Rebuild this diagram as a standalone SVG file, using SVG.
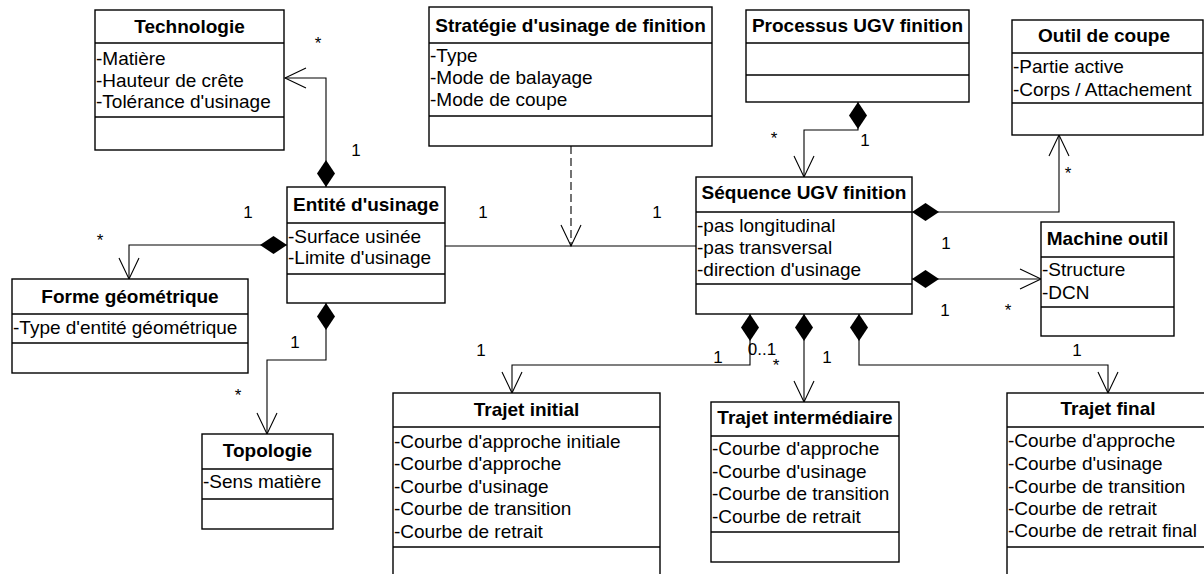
<svg xmlns="http://www.w3.org/2000/svg" width="1204" height="574" viewBox="0 0 1204 574">
<style>
.box{fill:#fff;stroke:#000;stroke-width:1.4}
.sep{stroke:#000;stroke-width:1.4}
.t{font-family:"Liberation Sans",Arial,sans-serif;font-size:19px;font-weight:bold;text-anchor:middle;fill:#000}
.a{font-family:"Liberation Sans",Arial,sans-serif;font-size:19px;fill:#000}
.l{font-family:"Liberation Sans",Arial,sans-serif;font-size:17px;text-anchor:middle;fill:#000}
.c{fill:none;stroke:#000;stroke-width:1.1}
.comp{marker-start:url(#dia);marker-end:url(#arr)}
.dash{stroke-dasharray:8,4}
</style>
<defs>
<marker id="arr" markerUnits="userSpaceOnUse" markerWidth="24" markerHeight="24" viewBox="-22 -11 24 22" refX="0" refY="0" orient="auto" overflow="visible">
<path d="M-21,-10 L0,0 L-21,10" fill="none" stroke="#000" stroke-width="1.1"/>
</marker>
<marker id="dia" markerUnits="userSpaceOnUse" markerWidth="30" markerHeight="20" viewBox="0 -10 30 20" refX="0" refY="0" orient="auto" overflow="visible">
<path d="M0,0 L13.5,-9 L27,0 L13.5,9 Z" fill="#000"/>
</marker>
</defs>

<g id="connectors">
<path class="c comp" d="M326,187 V78 H285"/>
<path class="c comp" d="M287,245 H129 V279"/>
<path class="c comp" d="M326,303 V360 H267 V434"/>
<path class="c" d="M445,246 H696"/>
<path class="c dash" d="M571,146 V246" marker-end="url(#arr)"/>
<path class="c comp" d="M858,102 V130 H804 V177"/>
<path class="c comp" d="M912,212 H1059 V135"/>
<path class="c comp" d="M912,279 H1041"/>
<path class="c comp" d="M750,314 V365 H512 V393"/>
<path class="c comp" d="M804,314 V402"/>
<path class="c comp" d="M859,314 V365 H1108 V393"/>
<g id="labels">
<text class="l" x="318" y="49">*</text>
<text class="l" x="356" y="156">1</text>
<text class="l" x="248" y="218">1</text>
<text class="l" x="100" y="246">*</text>
<text class="l" x="295" y="348">1</text>
<text class="l" x="238" y="401">*</text>
<text class="l" x="483" y="218">1</text>
<text class="l" x="657" y="218">1</text>
<text class="l" x="774" y="144">*</text>
<text class="l" x="865" y="146">1</text>
<text class="l" x="1068" y="179">*</text>
<text class="l" x="946" y="249">1</text>
<text class="l" x="945" y="316">1</text>
<text class="l" x="1008" y="316">*</text>
<text class="l" x="481" y="356">1</text>
<text class="l" x="718" y="363">1</text>
<text class="l" x="762" y="355">0..1</text>
<text class="l" x="776" y="371">*</text>
<text class="l" x="827" y="363">1</text>
<text class="l" x="1077" y="356">1</text>
</g>
</g>

<g id="technologie">
<rect class="box" x="95" y="10" width="189" height="140"/>
<line class="sep" x1="95" y1="43" x2="284" y2="43"/>
<line class="sep" x1="95" y1="117" x2="284" y2="117"/>
<text class="t" x="189.5" y="33">Technologie</text>
<text class="a" x="96" y="65">-Matière</text>
<text class="a" x="96" y="87">-Hauteur de crête</text>
<text class="a" x="96" y="108">-Tolérance d'usinage</text>
</g>

<g id="strategie">
<rect class="box" x="429" y="7" width="283" height="139"/>
<line class="sep" x1="429" y1="43" x2="712" y2="43"/>
<line class="sep" x1="429" y1="116" x2="712" y2="116"/>
<text class="t" x="570.5" y="32">Stratégie d'usinage de finition</text>
<text class="a" x="430" y="62">-Type</text>
<text class="a" x="430" y="84">-Mode de balayage</text>
<text class="a" x="430" y="106">-Mode de coupe</text>
</g>

<g id="processus">
<rect class="box" x="746" y="10" width="223" height="92"/>
<line class="sep" x1="746" y1="43" x2="969" y2="43"/>
<line class="sep" x1="746" y1="75" x2="969" y2="75"/>
<text class="t" x="857.5" y="32">Processus UGV finition</text>
</g>

<g id="outil">
<rect class="box" x="1012" y="20" width="191" height="115"/>
<line class="sep" x1="1012" y1="53" x2="1203" y2="53"/>
<line class="sep" x1="1012" y1="103" x2="1203" y2="103"/>
<text class="t" x="1104" y="42">Outil de coupe</text>
<text class="a" x="1013" y="73">-Partie active</text>
<text class="a" x="1013" y="96">-Corps / Attachement</text>
</g>

<g id="entite">
<rect class="box" x="287" y="187" width="158" height="116"/>
<line class="sep" x1="287" y1="223" x2="445" y2="223"/>
<line class="sep" x1="287" y1="274" x2="445" y2="274"/>
<text class="t" x="366" y="211">Entité d'usinage</text>
<text class="a" x="288" y="243">-Surface usinée</text>
<text class="a" x="288" y="264">-Limite d'usinage</text>
</g>

<g id="forme">
<rect class="box" x="12" y="279" width="236" height="94"/>
<line class="sep" x1="12" y1="314" x2="248" y2="314"/>
<line class="sep" x1="12" y1="343" x2="248" y2="343"/>
<text class="t" x="130" y="303">Forme géométrique</text>
<text class="a" x="13" y="334">-Type d'entité géométrique</text>
</g>

<g id="topologie">
<rect class="box" x="202" y="434" width="131" height="95"/>
<line class="sep" x1="202" y1="469" x2="333" y2="469"/>
<line class="sep" x1="202" y1="499" x2="333" y2="499"/>
<text class="t" x="267.5" y="457">Topologie</text>
<text class="a" x="203" y="488">-Sens matière</text>
</g>

<g id="sequence">
<rect class="box" x="696" y="177" width="216" height="137"/>
<line class="sep" x1="696" y1="212" x2="912" y2="212"/>
<line class="sep" x1="696" y1="284" x2="912" y2="284"/>
<text class="t" x="804" y="199">Séquence UGV finition</text>
<text class="a" x="697" y="232">-pas longitudinal</text>
<text class="a" x="697" y="254">-pas transversal</text>
<text class="a" x="697" y="276">-direction d'usinage</text>
</g>

<g id="machine">
<rect class="box" x="1041" y="222" width="133" height="114"/>
<line class="sep" x1="1041" y1="257" x2="1174" y2="257"/>
<line class="sep" x1="1041" y1="307" x2="1174" y2="307"/>
<text class="t" x="1107.5" y="245">Machine outil</text>
<text class="a" x="1042" y="276">-Structure</text>
<text class="a" x="1042" y="299">-DCN</text>
</g>

<g id="trajet-initial">
<rect class="box" x="393" y="393" width="267" height="190"/>
<line class="sep" x1="393" y1="427" x2="660" y2="427"/>
<line class="sep" x1="393" y1="547" x2="660" y2="547"/>
<text class="t" x="526.5" y="416">Trajet initial</text>
<text class="a" x="394" y="448">-Courbe d'approche initiale</text>
<text class="a" x="394" y="470">-Courbe d'approche</text>
<text class="a" x="394" y="493">-Courbe d'usinage</text>
<text class="a" x="394" y="515">-Courbe de transition</text>
<text class="a" x="394" y="538">-Courbe de retrait</text>
</g>

<g id="trajet-intermediaire">
<rect class="box" x="711" y="402" width="188" height="160"/>
<line class="sep" x1="711" y1="436" x2="899" y2="436"/>
<line class="sep" x1="711" y1="532" x2="899" y2="532"/>
<text class="t" x="805" y="424">Trajet intermédiaire</text>
<text class="a" x="712" y="455">-Courbe d'approche</text>
<text class="a" x="712" y="478">-Courbe d'usinage</text>
<text class="a" x="712" y="500">-Courbe de transition</text>
<text class="a" x="712" y="523">-Courbe de retrait</text>
</g>

<g id="trajet-final">
<rect class="box" x="1007" y="393" width="202" height="190"/>
<line class="sep" x1="1007" y1="427" x2="1209" y2="427"/>
<line class="sep" x1="1007" y1="547" x2="1209" y2="547"/>
<text class="t" x="1108" y="415">Trajet final</text>
<text class="a" x="1008" y="447">-Courbe d'approche</text>
<text class="a" x="1008" y="470">-Courbe d'usinage</text>
<text class="a" x="1008" y="493">-Courbe de transition</text>
<text class="a" x="1008" y="515">-Courbe de retrait</text>
<text class="a" x="1008" y="537">-Courbe de retrait final</text>
</g>
</svg>
